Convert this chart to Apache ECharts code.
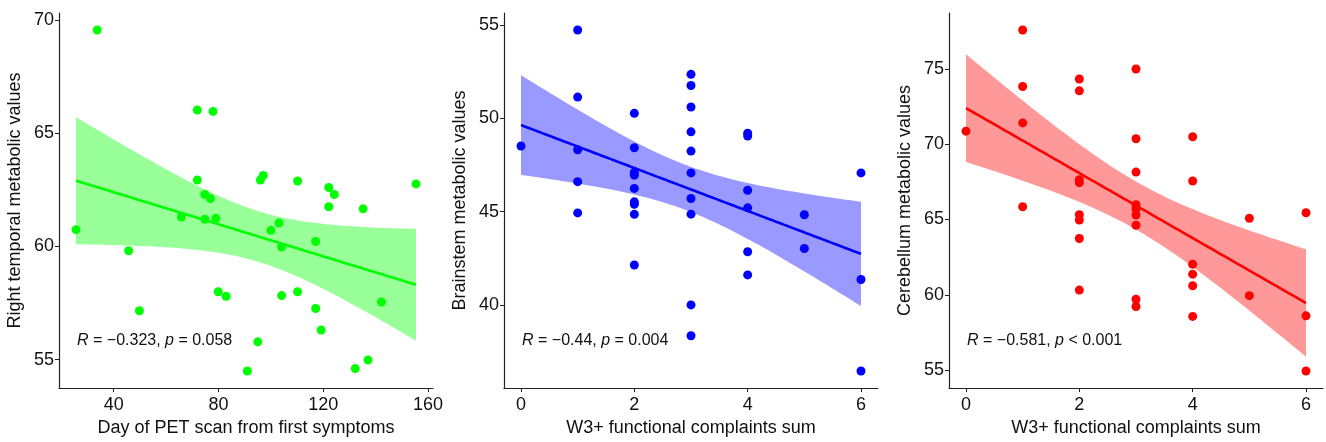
<!DOCTYPE html>
<html><head><meta charset="utf-8">
<script src="https://cdn.jsdelivr.net/npm/echarts@6/dist/echarts.min.js"></script>
<style>html,body{margin:0;padding:0;background:#fff}#c{width:1326px;height:442px}</style>
</head><body><div id="c"></div>
<script>
// Panel 1: Day of PET scan vs right temporal
const p1x = [33.7,25.6,45.7,49.8,65.8,71.9,71.9,77.9,74.8,76.9,74.8,79.0,79.9,82.9,91.0,95.0,96.0,97.1,100.0,103.1,104.1,104.1,110.2,110.2,117.1,117.1,119.2,122.1,124.2,122.1,135.2,132.2,137.1,142.2,155.4];
const p1y = [69.55,60.74,59.81,57.16,61.30,66.02,62.93,65.96,62.29,62.11,61.20,61.24,58.00,57.80,54.50,55.79,62.93,63.13,60.71,61.03,59.97,57.83,62.89,58.00,60.22,57.26,56.31,62.60,62.29,61.75,61.66,54.61,54.99,57.55,62.76];
// Panel 2: W3+ complaints vs brainstem
const p2x = [0,1,1,1,1,1,2,2,2,2,2,2,2,2,2,3,3,3,3,3,3,3,3,3,3,4,4,4,4,4,4,5,5,6,6,6];
const p2y = [48.51,54.72,51.13,48.31,46.60,44.93,50.26,48.42,47.10,46.95,46.24,45.52,45.39,44.85,42.14,52.35,51.75,50.60,49.27,48.24,47.07,45.70,44.86,40.00,38.35,49.20,49.04,46.14,45.20,42.85,41.61,44.83,43.02,47.07,41.36,36.46];
// Panel 3: W3+ complaints vs cerebellum
const p3x = [0,1,1,1,1,2,2,2,2,2,2,2,2,3,3,3,3,3,3,3,3,3,4,4,4,4,4,4,5,5,6,6,6];
const p3y = [70.87,77.59,73.84,71.42,65.85,74.34,73.55,67.65,67.45,65.32,64.97,63.74,60.31,75.00,70.37,68.15,65.98,65.69,65.30,64.62,59.70,59.22,70.50,67.56,62.03,61.37,60.60,58.56,65.08,59.94,65.45,58.60,54.93];

const xTicks1 = [40,80,120,160], yTicks1 = [55,60,65,70];
const xTicks2 = [0,2,4,6], yTicks2 = [40,45,50,55];
const xTicks3 = [0,2,4,6], yTicks3 = [55,60,65,70,75];
const xNames = ['Day of PET scan from first symptoms','W3+ functional complaints sum','W3+ functional complaints sum'];
const yNames = ['Right temporal metabolic values','Brainstem metabolic values','Cerebellum metabolic values'];
const labels = [['\u22120.323','= 0.058'],['\u22120.44','= 0.004'],['\u22120.581','< 0.001']];
const colors = ['#00FF00','#0000FF','#FF0000'];
const bandColors = ['rgba(0,255,0,0.4)','rgba(0,0,255,0.4)','rgba(255,0,0,0.4)'];

function tq975(df){ // Cornish-Fisher approximation of t quantile
  const z=1.959964, z3=z*z*z, z5=z3*z*z, z7=z5*z*z;
  return z + (z3+z)/(4*df) + (5*z5+16*z3+3*z)/(96*df*df) + (3*z7+19*z5+17*z3-15*z)/(384*df*df*df);
}
function fit(xs, ys){
  const n=xs.length; let mx=0,my=0; for(let i=0;i<n;i++){mx+=xs[i];my+=ys[i];} mx/=n; my/=n;
  let sxx=0,sxy=0; for(let i=0;i<n;i++){sxx+=(xs[i]-mx)**2; sxy+=(xs[i]-mx)*(ys[i]-my);}
  const b=sxy/sxx, a=my-b*mx; let sse=0; for(let i=0;i<n;i++){sse+=(ys[i]-a-b*xs[i])**2;}
  const s=Math.sqrt(sse/(n-2)), t=tq975(n-2);
  const x0=Math.min(...xs), x1=Math.max(...xs), m=80, line=[], up=[], lo=[];
  for(let k=0;k<=m;k++){const x=x0+(x1-x0)*k/m, f=a+b*x, se=s*Math.sqrt(1/n+(x-mx)**2/sxx);
    line.push([x,f]); up.push([x,f+t*se]); lo.push([x,f-t*se]);}
  return {line, up, lo};
}
function range(v){const mn=Math.min(...v), mx=Math.max(...v), d=(mx-mn)*0.05; return [mn-d, mx+d];}

const panels = [[p1x,p1y,xTicks1,yTicks1],[p2x,p2y,xTicks2,yTicks2],[p3x,p3y,xTicks3,yTicks3]];
const gridLeft = [59,504,949], gridW = 374, gridTop = 13, gridH = 378;
const nameGapY = [35,35,35];
const font = 'Liberation Sans, Arial, sans-serif';
const option = {animation:false, grid:[], xAxis:[], yAxis:[], series:[], graphic:[]};
panels.forEach((p,i)=>{
  const [xs,ys,xt,yt]=p, xr=range(xs), yr=range(ys), f=fit(xs,ys);
  option.grid.push({left:gridLeft[i], top:gridTop, width:gridW, height:gridH});
  const ax = ()=>({show:true, lineStyle:{color:'#222',width:1.2}, onZero:false});
  option.xAxis.push({type:'value', gridIndex:i, min:xr[0], max:xr[1], splitLine:{show:false},
    axisLine:ax(), axisTick:{show:true, length:4, lineStyle:{color:'#222'}, customValues:xt},
    axisLabel:{customValues:xt, color:'#111', fontSize:18, fontFamily:font, margin:8},
    name:xNames[i], nameLocation:'middle', nameGap:30, nameTextStyle:{fontSize:18, color:'#111', fontFamily:font}});
  option.yAxis.push({type:'value', gridIndex:i, min:yr[0], max:yr[1], splitLine:{show:false},
    axisLine:ax(), axisTick:{show:true, length:4, lineStyle:{color:'#222'}, customValues:yt},
    axisLabel:{customValues:yt, color:'#111', fontSize:18, fontFamily:font, margin:5},
    name:yNames[i], nameLocation:'middle', nameGap:nameGapY[i], nameTextStyle:{fontSize:18, color:'#111', fontFamily:font}});
  option.series.push({type:'custom', xAxisIndex:i, yAxisIndex:i, data:[[0,0]], silent:true, z:1,
    renderItem:(params, api)=>{
      const pts = f.up.map(d=>api.coord(d)).concat(f.lo.slice().reverse().map(d=>api.coord(d)));
      return {type:'polygon', shape:{points:pts}, style:{fill:bandColors[i]}};
    }});
  option.series.push({type:'line', xAxisIndex:i, yAxisIndex:i, data:f.line, showSymbol:false, silent:true, z:2,
    lineStyle:{color:colors[i], width:2.6}});
  option.series.push({type:'scatter', xAxisIndex:i, yAxisIndex:i, data:xs.map((x,k)=>[x,ys[k]]), symbolSize:9, z:3,
    itemStyle:{color:colors[i], opacity:1}});
  option.graphic.push({type:'text', left:[77,522,967][i], top:333,
    style:{rich:{i:{fontStyle:'italic', fontSize:16, fontFamily:font, fill:'#111'}, n:{fontSize:16, fontFamily:font, fill:'#111'}},
      text:'{i|R}{n| = '+labels[i][0]+', }{i|p}{n| '+labels[i][1]+'}'}});
});
const chart = echarts.init(document.getElementById('c'), null, {renderer:'canvas'});
chart.setOption(option);
</script></body></html>
